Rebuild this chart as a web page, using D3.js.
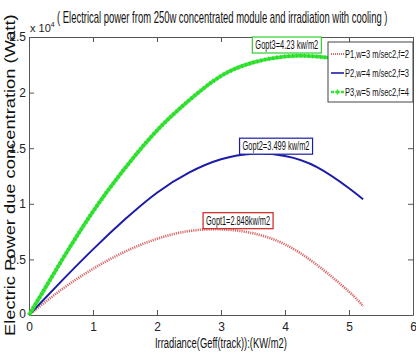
<!DOCTYPE html>
<html>
<head>
<meta charset="utf-8">
<script src="https://cdn.jsdelivr.net/npm/d3@7"></script>
<style>
  html, body { margin: 0; padding: 0; background: #fff; }
  svg { display: block; }
</style>
</head>
<body>
<svg id="chart" width="416" height="356"></svg>
<script>
// irradiance samples (kW/m2)
const irradiance = [0, 0.5, 1.0, 1.5, 2.0, 2.5, 3.0, 3.5, 4.0, 4.5, 5.0, 5.22];
// power, units of 1e4 W
const p1 = [0, 0.225, 0.415, 0.57, 0.685, 0.755, 0.77, 0.735, 0.635, 0.45, 0.21, 0.08];
const p2 = [0, 0.30, 0.59, 0.86, 1.10, 1.28, 1.40, 1.45, 1.43, 1.33, 1.14, 1.04];
const p3 = [0, 0.48, 0.93, 1.32, 1.66, 1.93, 2.15, 2.27, 2.325, 2.325, 2.29, 2.27];
const seriesNames = ['P1,w=3 m/sec2,f=2', 'P2,w=4 m/sec2,f=3', 'P3,w=5 m/sec2,f=4'];
const optLabels = ['Gopt1=2.848kw/m2', 'Gopt2=3.499 kw/m2', 'Gopt3=4.23 kw/m2'];
const xTicks = [0, 1, 2, 3, 4, 5, 6];
const yTicks = [0, 0.5, 1, 1.5, 2, 2.5];
const yTickLabels = ['0', '0.5', '1', '1.5', '2', '2.5'];

const svg = d3.select('#chart');
const margin = { left: 29, top: 37, right: 3, bottom: 41 };
const W = 416, H = 356;
const FONT = '"Liberation Sans Narrow", "Arial Narrow", "Liberation Sans", sans-serif';
const x = d3.scaleLinear().domain([0, 6]).range([margin.left, W - margin.right]);
const y = d3.scaleLinear().domain([0, 2.5]).range([H - margin.bottom, margin.top]);

// squeeze a text horizontally so it is `width` px wide (narrow font look)
function fitText(t, px, py, width, rot) {
  const w = t.node().getComputedTextLength();
  t.attr('transform', 'translate(' + px + ',' + py + ')' + (rot ? ' rotate(' + rot + ')' : '') +
    ' scale(' + (width / w) + ',1)');
}

svg.append('rect').attr('width', W).attr('height', H).attr('fill', '#fff');

// axes (ticks inside, matlab style)
const gx = svg.append('g')
  .attr('transform', 'translate(0,' + y(0) + ')')
  .call(d3.axisBottom(x).tickValues(xTicks).tickFormat(d3.format('d'))
    .tickSizeInner(-5).tickSizeOuter(0).tickPadding(7));
const gxTop = svg.append('g')
  .attr('transform', 'translate(0,' + y(2.5) + ')')
  .call(d3.axisTop(x).tickValues(xTicks).tickSizeInner(-5).tickSizeOuter(0).tickFormat(''));
const gy = svg.append('g')
  .attr('transform', 'translate(' + x(0) + ',0)')
  .call(d3.axisLeft(y).tickValues(yTicks).tickSizeInner(-5).tickSizeOuter(0).tickPadding(3)
    .tickFormat(function(d, i) { return yTickLabels[i]; }));
const gyRight = svg.append('g')
  .attr('transform', 'translate(' + x(6) + ',0)')
  .call(d3.axisRight(y).tickValues(yTicks).tickSizeInner(-5).tickSizeOuter(0).tickFormat(''));

[gx, gxTop, gy, gyRight].forEach(function(g) {
  g.selectAll('path,line').attr('stroke', '#555').attr('stroke-width', 1);
  g.selectAll('text').attr('font-size', 12).attr('fill', '#222').attr('font-family', FONT);
});
gy.selectAll('text').filter(function(d) { return d === 0; }).attr('dy', '0.2em');

// multiplier
const mult = svg.append('text')
  .attr('x', 30).attr('y', 32).attr('font-size', 11).attr('fill', '#222').attr('font-family', FONT);
mult.append('tspan').text('x 10');
mult.append('tspan').attr('dy', -5).attr('font-size', 7).text('4');

// curves
const pts = function(vals) { return irradiance.map(function(g, i) { return [g, vals[i]]; }); };
const line = d3.line()
  .x(function(d) { return x(d[0]); })
  .y(function(d) { return y(d[1]); })
  .curve(d3.curveNatural);

svg.append('path').datum(pts(p1)).attr('d', line)
  .attr('fill', 'none').attr('stroke', '#d86a6a').attr('stroke-width', 2.6)
  .attr('stroke-dasharray', '1.2,1');
svg.append('path').datum(pts(p2)).attr('d', line)
  .attr('fill', 'none').attr('stroke', '#1c1ca8').attr('stroke-width', 2);
svg.append('path').datum(pts(p3)).attr('d', line)
  .attr('fill', 'none').attr('stroke', '#33e633').attr('stroke-width', 3.6);
svg.append('path').datum(pts(p3)).attr('d', line)
  .attr('fill', 'none').attr('stroke', '#22cc22').attr('stroke-width', 4.6)
  .attr('stroke-dasharray', '1,3').attr('opacity', 0.7);

// optimum boxes
const optBoxes = [
  { gx: 2.72, gy: 0.92, w: 70, color: '#cc2222' },
  { gx: 3.29, gy: 1.59, w: 73, color: '#1c1ca8' },
  { gx: 3.49, gy: 2.5, w: 69, color: '#33cc33' }
];
optBoxes.forEach(function(b, i) {
  const bx = x(b.gx), by = y(b.gy);
  svg.append('rect').attr('x', bx).attr('y', by).attr('width', b.w).attr('height', 16)
    .attr('fill', '#fff').attr('stroke', b.color).attr('stroke-width', 1.2);
  const t = svg.append('text')
    .attr('font-size', 12).attr('fill', '#111').attr('font-family', FONT)
    .text(optLabels[i]);
  fitText(t, bx + 3, by + 12, b.w - 6);
});

// legend
const lg = svg.append('g').attr('transform', 'translate(328,42)');
lg.append('rect').attr('width', 85).attr('height', 60)
  .attr('fill', '#fff').attr('stroke', '#444').attr('stroke-width', 1);
const styles = [
  { stroke: '#d86a6a', w: 2, dash: '1,1' },
  { stroke: '#1c1ca8', w: 1.6, dash: null },
  { stroke: '#33e633', w: 2.6, dash: '3,2' }
];
seriesNames.forEach(function(name, i) {
  const ry = 12 + i * 19;
  const l = lg.append('line').attr('x1', 3).attr('x2', 16).attr('y1', ry).attr('y2', ry)
    .attr('stroke', styles[i].stroke).attr('stroke-width', styles[i].w);
  if (styles[i].dash) l.attr('stroke-dasharray', styles[i].dash);
  if (i === 2) {
    lg.append('path').attr('d', d3.symbol(d3.symbolCross, 14)())
      .attr('transform', 'translate(9.5,' + ry + ')').attr('fill', '#33e633');
  }
  const t = lg.append('text')
    .attr('font-size', 11).attr('fill', '#111').attr('font-family', FONT)
    .text(name);
  fitText(t, 17, ry + 4, 64);
});

// title and axis labels
const title = svg.append('text')
  .attr('font-size', 16).attr('fill', '#111').attr('font-family', FONT)
  .text('( Electrical power from 250w concentrated module and irradiation with cooling )');
fitText(title, 57, 23, 331);
const xlab = svg.append('text')
  .attr('font-size', 15).attr('fill', '#111').attr('font-family', FONT)
  .text('Irradiance(Geff(track)):(KW/m2)');
fitText(xlab, 155, 348, 132);
const ylab = svg.append('text')
  .attr('font-family', '"Liberation Sans", Arial, sans-serif')
  .attr('font-size', 15).attr('fill', '#111')
  .text('Electric Power due concentration (Watt)');
fitText(ylab, 15, 336, 322, -90);
</script>
</body>
</html>
